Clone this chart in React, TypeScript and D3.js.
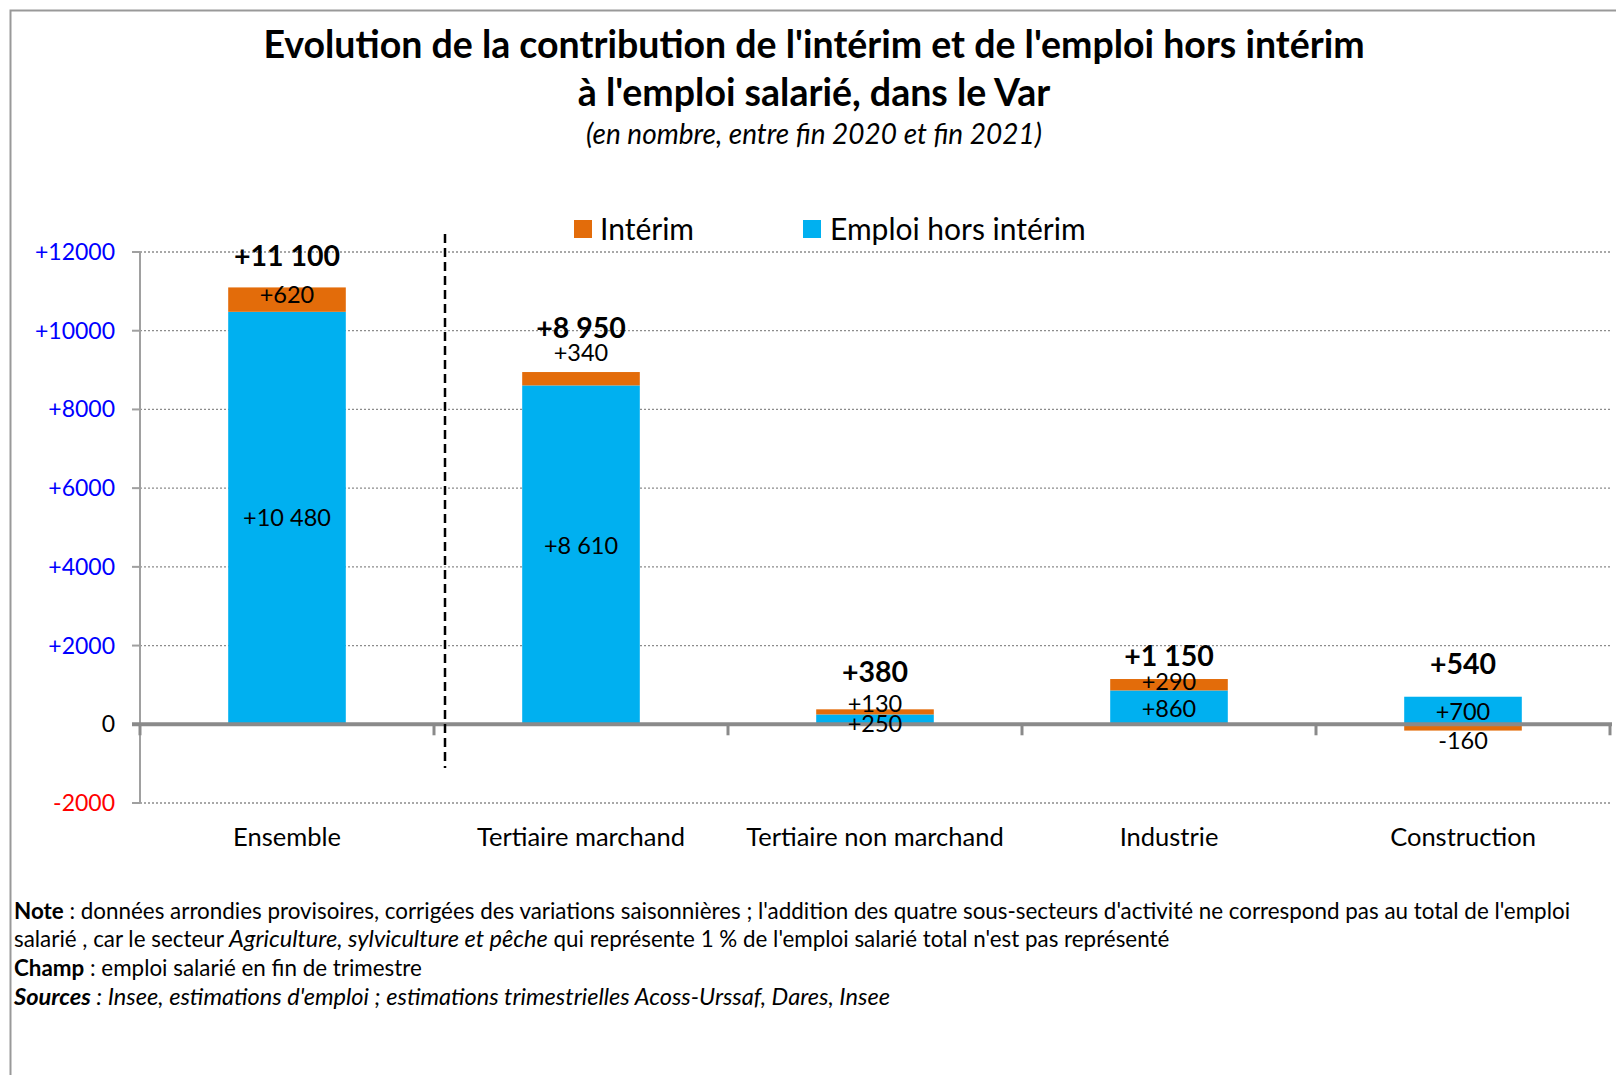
import React from "react";
import * as d3 from "d3";

// values (en nombre, fin 2020 -> fin 2021)
const categories = [
  "Ensemble",
  "Tertiaire marchand",
  "Tertiaire non marchand",
  "Industrie",
  "Construction",
];
const horsInterim = [10480, 8610, 250, 860, 700];
const interim = [620, 340, 130, 290, -160];
const totals = [11100, 8950, 380, 1150, 540];
const yTicks = [-2000, 0, 2000, 4000, 6000, 8000, 10000, 12000];

// manual label nudges (px), like the hand-placed labels of the original
const interimLabelDy = [-5, -26, -8, -3, 13];
const horsLabelDy = [0, -9, 4, 1, 1];
const totalLabelGap = [31, 44, 37, 23, 33];

const W = 1616;
const H = 1075;
const FONT = "Lato, 'Open Sans', sans-serif";
const ORANGE = "#E36C0A";
const BLUE = "#00B0F0";

const fmtNum = (v: number) => {
  const s = d3.format(",")(Math.abs(v)).replace(/,/g, " ");
  return (v < 0 ? "-" : "+") + s;
};
const fmtTick = (v: number) => (v > 0 ? "+" + v : String(v));
const tickColor = (v: number) => (v > 0 ? "#0000FF" : v < 0 ? "#FF0000" : "#000");

const App = () => {
  const plot = { left: 140, right: 1610, top: 252, bottom: 803 };

  const x = d3
    .scaleBand<string>()
    .domain(categories)
    .range([plot.left, plot.right])
    .paddingInner(0.6)
    .paddingOuter(0.3);

  const y = d3
    .scaleLinear()
    .domain([-2000, 12000])
    .range([plot.bottom, plot.top]);

  const rows = categories.map((c, i) => ({
    cat: c,
    hors: horsInterim[i],
    interim: interim[i],
  }));
  const stack = d3
    .stack<any>()
    .keys(["hors", "interim"])
    .offset(d3.stackOffsetDiverging);
  const series = stack(rows);
  const colors: Record<string, string> = { hors: BLUE, interim: ORANGE };

  const y0 = y(0);
  const step = x.step();
  const boundaries = d3.range(categories.length + 1).map((i) => plot.left + i * step);
  const dashX = plot.left + step + 11;

  return (
    <svg
      width={W}
      height={H}
      style={{ position: "absolute", left: 0, top: 0, background: "#fff" }}
      fontFamily={FONT}
    >
      {/* frame */}
      <rect x={10.5} y={10.5} width={W + 100} height={H + 100} fill="none" stroke="#999" strokeWidth={2} />

      {/* titles */}
      <text x={814} y={58} textAnchor="middle" fontSize={37.5} fontWeight="bold">
        Evolution de la contribution de l'intérim et de l'emploi hors intérim
      </text>
      <text x={814} y={106} textAnchor="middle" fontSize={37.5} fontWeight="bold">
        à l'emploi salarié, dans le Var
      </text>
      <text x={814} y={144} textAnchor="middle" fontSize={28} fontStyle="italic">
        (en nombre, entre fin 2020 et fin 2021)
      </text>

      {/* legend */}
      <rect x={574} y={220} width={18} height={18} fill={ORANGE} />
      <text x={600} y={229} dy="0.35em" fontSize={30}>Intérim</text>
      <rect x={803} y={220} width={18} height={18} fill={BLUE} />
      <text x={830} y={229} dy="0.35em" fontSize={30}>Emploi hors intérim</text>

      {/* gridlines */}
      {yTicks
        .filter((t) => t !== 0)
        .map((t) => (
          <line
            key={"g" + t}
            x1={plot.left}
            x2={plot.right}
            y1={y(t)}
            y2={y(t)}
            stroke="#8c8c8c"
            strokeWidth={1.3}
            strokeDasharray="2,2"
          />
        ))}

      {/* y axis */}
      <line x1={plot.left} x2={plot.left} y1={plot.top} y2={plot.bottom} stroke="#a0a0a0" strokeWidth={2} />
      {yTicks.map((t) => (
        <g key={"t" + t}>
          <line x1={plot.left - 8} x2={plot.left} y1={y(t)} y2={y(t)} stroke="#a0a0a0" strokeWidth={2} />
          <text x={115} y={y(t)} dy="0.35em" textAnchor="end" fontSize={23} fill={tickColor(t)}>
            {fmtTick(t)}
          </text>
        </g>
      ))}

      {/* bars */}
      {series.map((s) =>
        s.map((d, i) => (
          <rect
            key={s.key + i}
            x={x(categories[i])}
            width={x.bandwidth()}
            y={y(Math.max(d[0], d[1]))}
            height={Math.abs(y(d[0]) - y(d[1]))}
            fill={colors[s.key]}
          />
        ))
      )}

      {/* zero axis */}
      <line x1={plot.left - 8} x2={plot.right + 2} y1={y0} y2={y0} stroke="#8a8a8a" strokeWidth={4} />
      {boundaries.map((bx, i) => (
        <line key={"b" + i} x1={bx} x2={bx} y1={y0} y2={y0 + 11} stroke="#8a8a8a" strokeWidth={3} />
      ))}

      {/* separator */}
      <line
        x1={dashX}
        x2={dashX}
        y1={234}
        y2={768}
        stroke="#000"
        strokeWidth={2.5}
        strokeDasharray="9,5"
      />

      {/* segment labels */}
      {series.map((s) =>
        s.map((d, i) => {
          const dy = s.key === "interim" ? interimLabelDy[i] : horsLabelDy[i];
          const v = s.key === "interim" ? interim[i] : horsInterim[i];
          const cy = (y(d[0]) + y(d[1])) / 2 + dy;
          return (
            <text
              key={"l" + s.key + i}
              x={(x(categories[i]) as number) + x.bandwidth() / 2}
              y={cy}
              dy="0.35em"
              textAnchor="middle"
              fontSize={23.5}
            >
              {fmtNum(v)}
            </text>
          );
        })
      )}

      {/* totals */}
      {totals.map((t, i) => {
        const top = Math.max(0, horsInterim[i]) + Math.max(0, interim[i]);
        return (
          <text
            key={"tot" + i}
            x={(x(categories[i]) as number) + x.bandwidth() / 2}
            y={y(top) - totalLabelGap[i]}
            dy="0.35em"
            textAnchor="middle"
            fontSize={28.5}
            fontWeight="bold"
          >
            {fmtNum(t)}
          </text>
        );
      })}

      {/* category labels */}
      {categories.map((c) => (
        <text
          key={"c" + c}
          x={(x(c) as number) + x.bandwidth() / 2}
          y={837}
          dy="0.35em"
          textAnchor="middle"
          fontSize={25.5}
        >
          {c}
        </text>
      ))}

      {/* notes */}
      <g fontSize={22.4}>
        <text x={14} y={919}>
          <tspan fontWeight="bold">Note</tspan> : données arrondies provisoires, corrigées des variations saisonnières ; l'addition des quatre sous-secteurs d'activité ne correspond pas au total de l'emploi
        </text>
        <text x={14} y={947}>
          salarié , car le secteur <tspan fontStyle="italic" fontSize={23.6}>Agriculture, sylviculture et pêche</tspan> qui représente 1 % de l'emploi salarié total n'est pas représenté
        </text>
        <text x={14} y={976}>
          <tspan fontWeight="bold">Champ</tspan> : emploi salarié en fin de trimestre
        </text>
        <text x={14} y={1005} fontStyle="italic" fontSize={23.6}>
          <tspan fontWeight="bold">Sources</tspan> : Insee, estimations d'emploi ; estimations trimestrielles Acoss-Urssaf, Dares, Insee
        </text>
      </g>
    </svg>
  );
};

export default App;
